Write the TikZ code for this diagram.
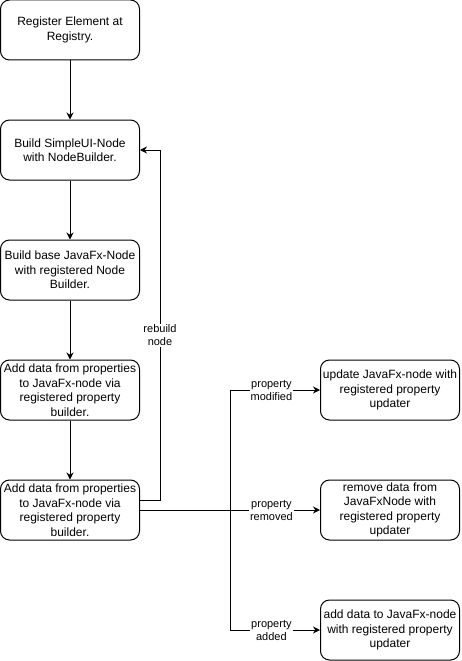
\documentclass[tikz,border=0pt]{standalone}
\usepackage{fontspec}
\setmainfont{Liberation Sans}
\usetikzlibrary{arrows.meta}
\begin{document}
\begin{tikzpicture}[x=1pt,y=-1pt,>={Stealth[length=7pt,width=7pt]},line width=1pt]

  \tikzset{
    stepbox/.style={draw,rounded corners=9pt,minimum width=139pt,minimum height=60pt,
      align=center,inner sep=1pt,font=\fontsize{12}{14.5}\selectfont},
    edgelabel/.style={fill=white,align=center,inner sep=1pt,font=\fontsize{11}{13}\selectfont}
  }

  \useasboundingbox (0,0) rectangle (461,661);

  % linke Spalte: Ablauf
  \node[stepbox] (register) at (70,30) {Register Element at\\Registry.};
  \node[stepbox] (simple) at (70,150) {Build SimpleUI-Node\\with NodeBuilder.};
  \node[stepbox] (base) at (70,270) {Build base JavaFx-Node\\with registered Node\\Builder.};
  \node[stepbox] (propA) at (70,390) {Add data from properties\\to JavaFx-node via\\registered property\\builder.};
  \node[stepbox] (propB) at (70,510) {Add data from properties\\to JavaFx-node via\\registered property\\builder.};

  % rechte Spalte: Updater
  \node[stepbox] (update) at (390,390) {update JavaFx-node with\\registered property\\updater};
  \node[stepbox] (remove) at (390,510) {remove data from\\JavaFxNode with\\registered property\\updater};
  \node[stepbox] (addnew) at (390,630) {add data to JavaFx-node\\with registered property\\updater};

  % Pfeile nach unten
  \draw[->] (register) -- (simple);
  \draw[->] (simple) -- (base);
  \draw[->] (base) -- (propA);
  \draw[->] (propA) -- (propB);

  % rebuild node
  \coordinate (rbbot) at (160,500);
  \coordinate (rbtop) at (160,150);
  \draw[->] (propB.east |- rbbot) -- (rbbot)
    -- node[edgelabel,pos=0.47] {rebuild\\node} (rbtop) -- (simple.east);

  % Verzweigung zu den Updatern
  \coordinate (split) at (230,510);
  \draw (propB.east) -- (split);
  \draw[->] (split) |- node[edgelabel,pos=0.73] {property\\modified} (update.west);
  \draw[->] (split) -- node[edgelabel,pos=0.46] {property\\removed} (remove.west);
  \draw[->] (split) |- node[edgelabel,pos=0.73] {property\\added} (addnew.west);

\end{tikzpicture}
\end{document}
